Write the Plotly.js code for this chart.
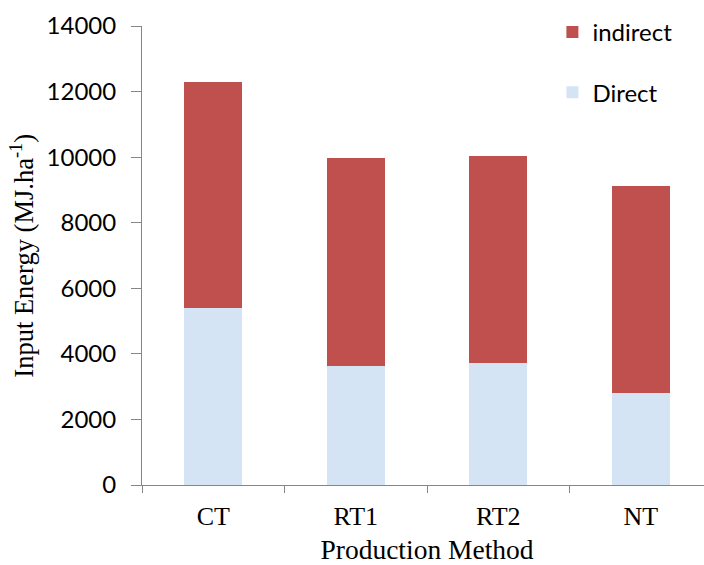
<!DOCTYPE html>
<html>
<head>
<meta charset="utf-8">
<script src="https://cdn.plot.ly/plotly-3.0.1.min.js"></script>
<style>
html,body{margin:0;padding:0;overflow:hidden;background:#fff;}
#chart{width:714px;height:565px;}
</style>
</head>
<body>
<div id="chart"></div>
<script>
const categories = ["CT", "RT1", "RT2", "NT"];
const directValues = [5400, 3630, 3710, 2800];
const indirectValues = [6890, 6350, 6310, 6310];
const yTickValues = [0, 2000, 4000, 6000, 8000, 10000, 12000, 14000];
const yTickLabels = ["0", "2000", "4000", "6000", "8000", "10000", "12000", "14000"];

const traces = [
  {
    type: "bar", name: "Direct", x: categories, y: directValues,
    marker: {color: "#D5E4F4"}, width: 0.41, legendgroup: "d", legendrank: 2
  },
  {
    type: "bar", name: "indirect", x: categories, y: indirectValues,
    marker: {color: "#C0504D"}, width: 0.41, legendgroup: "i", legendrank: 1
  }
];

const layout = {
  width: 714, height: 565,
  margin: {l: 142, r: 2, t: 26, b: 80},
  barmode: "stack",
  paper_bgcolor: "#fff", plot_bgcolor: "#fff",
  showlegend: true,
  legend: {
    x: 0.72, y: 1.035, xanchor: "left", yanchor: "top",
    traceorder: "grouped", tracegroupgap: 26,
    font: {family: "Lato, sans-serif", size: 24, color: "#000"},
    itemwidth: 30
  },
  xaxis: {
    type: "category",
    showline: true, linecolor: "#868686", linewidth: 1,
    ticks: "outside", tickson: "boundaries", ticklen: 7, tickcolor: "#868686",
    tickfont: {family: "Liberation Serif, serif", size: 26, color: "#000"},
    ticklabelstandoff: 8,
    title: {text: "Production Method", font: {family: "Liberation Serif, serif", size: 27.5, color: "#000"}, standoff: 13},
    showgrid: false, zeroline: false
  },
  yaxis: {
    range: [0, 14000], tickvals: yTickValues, ticktext: yTickLabels,
    showline: true, linecolor: "#868686", linewidth: 1,
    ticks: "outside", ticklen: 10, tickcolor: "#868686",
    tickfont: {family: "Lato, sans-serif", size: 24, color: "#000"},
    showgrid: false, zeroline: false, ticklabelstandoff: 10
  },
  annotations: [{
    text: "Input Energy (MJ.ha<sup>-1</sup>)",
    textangle: -90, xref: "paper", yref: "paper",
    x: -0.212, y: 0.5, xanchor: "center", yanchor: "middle",
    showarrow: false,
    font: {family: "Liberation Serif, serif", size: 26.5, color: "#000"}
  }]
};

Plotly.newPlot("chart", traces, layout, {displayModeBar: false, staticPlot: true});
</script>
</body>
</html>
